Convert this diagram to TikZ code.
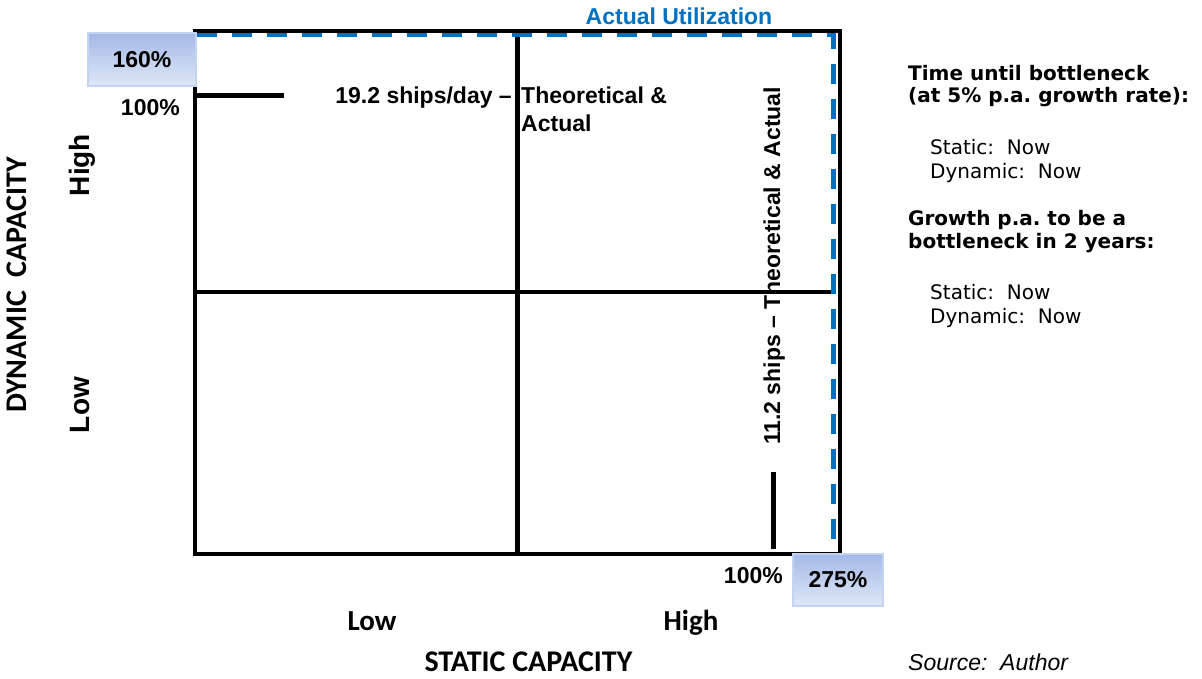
\documentclass[tikz,border=0pt]{standalone}
\usepackage{fontspec}
\setmainfont{Liberation Sans}
\newfontfamily\verdfont{DejaVu Sans}
\newfontfamily\calfont{Carlito}
\usetikzlibrary{positioning}
\definecolor{utilblue}{RGB}{0,112,192}
\definecolor{boxtop}{RGB}{164,185,230}
\definecolor{boxbot}{RGB}{222,231,247}
\definecolor{boxline}{RGB}{196,212,240}
\tikzset {axis/.style={line width=4.5pt},
  util/.style={utilblue,line width=4.5pt,dash pattern=on 20pt off 15pt},
  pctbox/.style={draw=boxline,line width=2pt,top color=boxtop,bottom color=boxbot,
    inner sep=0pt,font=\bfseries\fontsize{23}{26}\selectfont},
  lbl/.style={inner sep=0pt,font=\bfseries\fontsize{23}{27}\selectfont},
  axlbl/.style={inner sep=0pt,font=\calfont\bfseries\fontsize{30}{34}\selectfont},
  side/.style={inner sep=0pt,anchor=base west,font=\verdfont\fontsize{20}{23}\selectfont},
  sidehead/.style={side,font=\verdfont\bfseries\fontsize{20}{23}\selectfont}}
\frenchspacing

\begin{document}
\begin{tikzpicture}[x=1pt,y=-1pt]
\useasboundingbox (0,0) rectangle (1202,678);
\coordinate (nw) at (195,31);
\coordinate (se) at (840,554);
\coordinate (mt) at (517.5,31);
\coordinate (mb) at (517.5,554);
\coordinate (ml) at (195,292);
\coordinate (mr) at (833.5,292);
\coordinate (u0) at (197,35);
\coordinate (u1) at (833.5,35);
\coordinate (u2) at (833.5,548);
\coordinate (h0) at (195,95.5);
\coordinate (h1) at (284,95.5);
\coordinate (v0) at (773.5,472);
\coordinate (v1) at (773.5,549);
\draw[axis] (nw) rectangle (se);
\draw[axis] (mt) -- (mb);
\draw[axis] (ml) -- (mr);
\draw[util] (u0) -- (u1) -- (u2);
\draw[axis] (h0) -- (h1);
\draw[axis] (v0) -- (v1);
\node[pctbox,minimum width=108pt,minimum height=53pt] (dynpct) at (142,59.5) {160\%};
\node[pctbox,minimum width=90pt,minimum height=52pt] (stapct) at (838,580) {275\%};
\node[lbl,anchor=base east] (dyn100) at (180,115) {100\%};
\node[lbl,anchor=base east] (sta100) at (783,583) {100\%};
\node[lbl,utilblue,anchor=base] (util) at (679,24) {Actual Utilization};
\node[lbl,anchor=base east] (ship1) at (512,103) {19.2 ships/day –};
\node[lbl,anchor=base west] (ship2) at (521,103) {Theoretical \&};
\node[lbl,anchor=base west] (ship3) at (521,131) {Actual};
\node[lbl,anchor=base,rotate=90] (ship4) at (780,266) {11.2 ships – Theoretical \& Actual};
\node[lbl,anchor=base,rotate=90,font=\bfseries\fontsize{28}{32}\selectfont] (dynhi) at (89.5,165) {High};
\node[lbl,anchor=base,rotate=90,font=\bfseries\fontsize{28}{32}\selectfont] (dynlo) at (89.5,405) {Low};
\node[axlbl,anchor=base,rotate=90] (dyncap) at (27,285) {DYNAMIC\ \ CAPACITY};
\node[axlbl,anchor=base,font=\calfont\bfseries\fontsize{29}{34}\selectfont] (stalo) at (372,630) {Low};
\node[axlbl,anchor=base,font=\calfont\bfseries\fontsize{29}{34}\selectfont] (stahi) at (691,630) {High};
\node[axlbl,anchor=base] (stacap) at (528.5,671) {STATIC CAPACITY};
\node[sidehead] (t1) at (908,80) {Time until bottleneck};
\node[sidehead] (t2) at (908,102.5) {(at 5\% p.a. growth rate):};
\node[side] (t3) at (930,154) {Static:\ \ Now};
\node[side] (t4) at (930,178) {Dynamic:\ \ Now};
\node[sidehead] (g1) at (908,225) {Growth p.a. to be a};
\node[sidehead] (g2) at (908,248) {bottleneck in 2 years:};
\node[side] (g3) at (930,299) {Static:\ \ Now};
\node[side] (g4) at (930,323) {Dynamic:\ \ Now};
\node[inner sep=0pt,anchor=base west,font=\itshape\fontsize{23}{27}\selectfont] (src) at (908,670) {Source:\ \ Author};
\end{tikzpicture}
\end{document}
